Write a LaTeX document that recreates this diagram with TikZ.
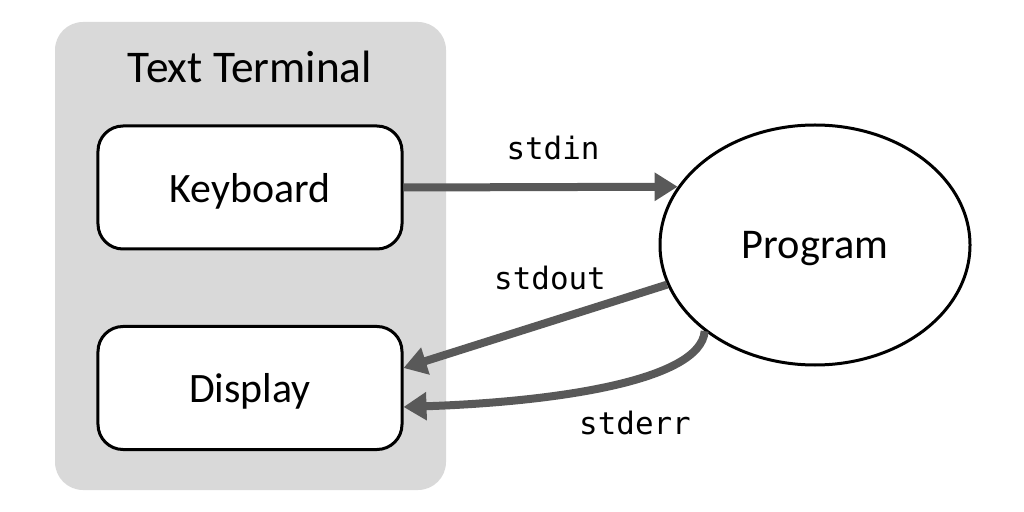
\documentclass[tikz,border=0pt]{standalone}
\usepackage{fontspec}
\setmainfont{Carlito}
\newfontfamily\codefont{DejaVu Sans Mono}
\usetikzlibrary{arrows.meta,shapes.geometric}
\definecolor{termgray}{HTML}{D9D9D9}
\definecolor{arrowgray}{HTML}{595959}
\tikzset{
  iobox/.style={draw=black, line width=3bp, fill=white, rounded corners=25bp,
    minimum width=304bp, minimum height=123bp, inner sep=0pt, text depth=0pt,
    font=\fontsize{42}{50}\selectfont},
  flow/.style={draw=arrowgray, line width=8bp,
    -{Triangle[length=23bp,width=27bp]}},
  codelabel/.style={font=\codefont\fontsize{31}{36}\selectfont, inner sep=0pt}
}
\begin{document}
\begin{tikzpicture}[x=1bp,y=-1bp]
\useasboundingbox (0,0) rectangle (1024,512);
\fill[termgray, rounded corners=28bp] (55,22) rectangle (446,490);
\node[font=\fontsize{45.5}{54}\selectfont, inner sep=0pt] (title) at (250,67) {Text Terminal};
\node[iobox] (kb) at (250,187.5) {Keyboard};
\node[iobox] (disp) at (250,388) {Display};
\node[ellipse, draw=black, line width=3bp, fill=white, minimum width=310bp,
  minimum height=240bp, inner sep=0pt, text depth=0pt, font=\fontsize{42.5}{50}\selectfont]
  (prog) at (815,245) {Program};
\draw[flow] (kb.east) -- (prog.157.3);
\draw[flow] (prog.195.8) -- ([yshift=20bp]disp.east);
\draw[flow] (prog.218.3) .. controls +(-4,50) and +(150,-5) .. ([yshift=-19bp]disp.east);
\node[codelabel] (lin) at (553,148) {stdin};
\node[codelabel] (lout) at (550,278) {stdout};
\node[codelabel] (lerr) at (635,423) {stderr};
\end{tikzpicture}
\end{document}
